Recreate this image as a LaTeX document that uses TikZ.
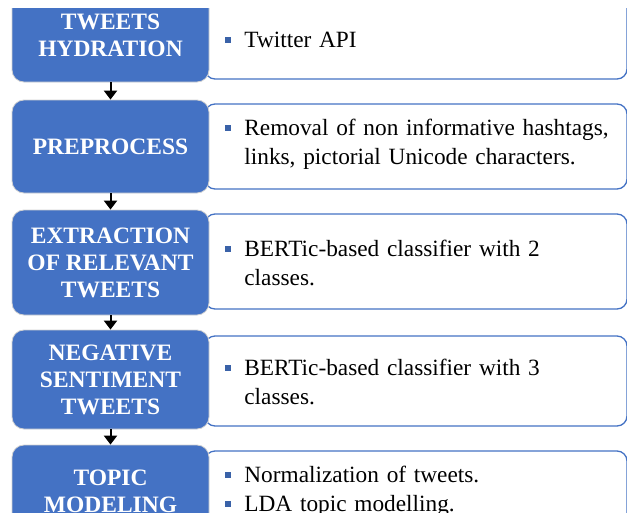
\documentclass[tikz,border=0pt]{standalone}
\usepackage{fontspec}
\setmainfont{Liberation Serif}
\usetikzlibrary{arrows.meta}
\definecolor{stepblue}{HTML}{4472C4}
\definecolor{bulblue}{HTML}{3A62A8}
\newcommand{\bul}{\leavevmode\llap{\textcolor{bulblue}{\rule[0.2em]{0.26em}{0.26em}}\hspace{13pt}}}
\begin{document}
\begin{tikzpicture}[x=1pt, y=1pt, thick,
	stage/.style = {draw=white!82!black, line width=0.8pt, fill=stepblue, rounded corners=12pt, minimum width=197pt, text=white, align=center, inner sep=0pt, font=\fontsize{23.5}{27}\selectfont\bfseries},
	detail/.style = {draw=stepblue, line width=1.3pt, fill=white, rounded corners=10pt, minimum width=422pt, inner sep=0pt},
	itemtext/.style = {anchor=west, text width=400pt, align=left, inner sep=0pt, font=\fontsize{23.3}{29}\selectfont},
	flow/.style = {-{Triangle[length=9pt, width=13pt]}, line width=2pt}]
	
	\useasboundingbox (0,0) rectangle (627,-512);
	\clip (0,-8) rectangle (627,-512);
	
	% right hand boxes
	\node[detail, minimum height=85pt] (hydr-d) at (416,-36.5) {};
	\node[detail, minimum height=85pt] (prep-d) at (416,-146.5) {};
	\node[detail, minimum height=95pt] (extr-d) at (416,-261.5) {};
	\node[detail, minimum height=90pt] (neg-d) at (416,-381) {};
	\node[detail, minimum height=85pt] (topic-d) at (416,-493.5) {};
	
	\node[itemtext] (hydr-t) at (244,-40) {\bul Twitter API};
	\node[itemtext] (prep-t) at (244,-144.5) {\bul Removal of non informative hashtags,\\ links, pictorial Unicode characters.};
	\node[itemtext] (extr-t) at (244,-263) {\bul BERTic-based classifier with 2\\ classes.};
	\node[itemtext] (neg-t) at (244,-382) {\bul BERTic-based classifier with 3\\ classes.};
	\node[itemtext, anchor=north west] (topic-t) at (244,-466) {\bul Normalization of tweets.\\ \bul LDA topic modelling.};
	
	% stages
	\node[stage, minimum height=93pt] (hydr) at (110.5,-35.5) {TWEETS\\HYDRATION};
	\node[stage, minimum height=93pt] (prep) at (110.5,-146.5) {PREPROCESS};
	\node[stage, minimum height=105pt] (extr) at (110.5,-262.5) {EXTRACTION\\OF RELEVANT\\TWEETS};
	\node[stage, minimum height=99pt] (neg) at (110.5,-379.5) {NEGATIVE\\SENTIMENT\\TWEETS};
	\node[stage, minimum height=93pt] (topic) at (110.5,-491.5) {TOPIC\\MODELING};
	
	\draw[flow] (hydr) -- (prep);
	\draw[flow] (prep) -- (extr);
	\draw[flow] (extr) -- (neg);
	\draw[flow] (neg) -- (topic);
\end{tikzpicture}
\end{document}
